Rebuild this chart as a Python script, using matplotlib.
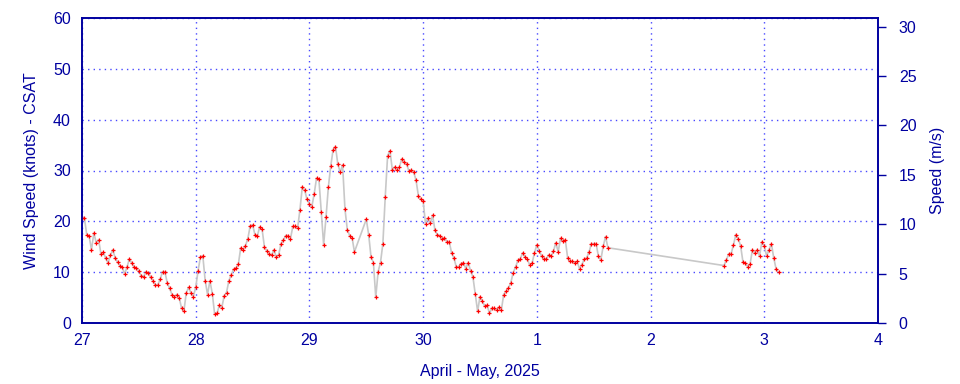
import matplotlib
matplotlib.use("Agg")
import matplotlib.pyplot as plt
import matplotlib.dates as mdates
import matplotlib.ticker as mticker
import numpy as np
import pandas as pd

# 30 minute CSAT wind speed samples (knots)
start_time = pd.Timestamp("2025-04-27 00:00")
step = pd.Timedelta(minutes=30)

seg_a_start = 0
seg_a = [20.7, 20.7, 17.4, 17.1, 14.4, 17.7, 15.8, 16.4, 13.6, 13.9,
         12.8, 11.8, 13.3, 14.4, 12.8, 12.0, 11.3, 11.0, 9.6, 11.0,
         12.6, 11.8, 11.0, 10.8, 10.2, 9.3, 9.1, 10.1, 9.8, 9.0,
         8.3, 7.5, 7.5, 8.6, 10.1, 10.0, 7.9, 6.8, 5.6, 5.2,
         5.6, 5.0, 3.0, 2.3, 5.9, 7.0, 5.9, 5.2, 7.0, 10.3,
         13.0, 13.2, 8.3, 5.6, 8.3, 5.8, 1.7, 1.9, 3.5, 3.0,
         5.3, 6.0, 8.3, 9.5, 10.6, 10.8, 11.6, 14.8, 14.4, 15.2,
         16.6, 19.1, 19.3, 17.4, 17.1, 18.9, 18.5, 15.0, 14.2, 13.6,
         13.3, 14.4, 13.0, 13.4, 15.6, 16.3, 17.2, 17.2, 16.6, 19.0,
         19.0, 18.6, 22.3, 26.8, 26.1, 24.3, 23.4, 22.8, 25.4, 28.5,
         28.3, 21.8, 15.4, 20.8, 26.8, 30.9, 34.1, 34.7, 31.2, 29.7,
         31.1, 22.4, 18.3, 17.2, 16.8, 14.0]

seg_b_start = 120
seg_b = [20.4, 17.4, 13.0, 11.9, 5.1, 10.1, 11.9, 15.6, 24.8, 32.9,
         33.9, 30.1, 30.7, 30.1, 30.7, 32.3, 31.7, 31.3, 29.9, 30.1,
         29.7, 28.1, 25.0, 24.4, 24.0,
         19.5, 20.6, 19.6, 21.2, 18.2, 17.4, 17.2, 16.5, 16.8, 16.0,
         16.0, 13.8, 12.8, 11.0, 11.1, 11.7, 11.9, 10.7, 11.9, 10.3,
         9.1, 5.7, 2.3, 5.2, 4.3, 3.3, 3.5, 1.9, 2.9, 2.9,
         2.5, 3.1, 2.5, 5.6, 6.2, 6.9, 7.9, 9.9, 11.0, 12.3,
         12.6,
         13.8, 13.0, 12.5, 11.4, 11.8, 13.8, 15.4, 14.2, 13.2, 12.6,
         12.6, 13.4, 13.1, 14.1, 15.8, 14.0, 16.7, 16.1, 16.4, 12.8,
         12.1, 12.1, 11.9, 12.1, 10.7, 11.5, 12.5, 12.8, 13.9, 15.6,
         15.6, 15.6, 13.1, 12.4, 15.1, 17.0, 14.8]

seg_c_start = 271
seg_c = [11.3, 12.4, 13.6, 13.6, 15.4, 17.4, 16.6, 15.2, 12.0, 11.8,
         11.1, 11.6, 14.4, 13.8, 14.4, 13.2, 16.0, 15.2, 13.2, 14.4,
         15.6, 12.8, 10.6, 10.0]

KNOT_TO_MS = 0.514444
NAVY = "#0000a0"
FS = 11.5

idx = []
vals = []
for s, seg in [(seg_a_start, seg_a), (seg_b_start, seg_b), (seg_c_start, seg_c)]:
    idx += list(range(s, s + len(seg)))
    vals += seg
times = start_time + step * np.array(idx)

plt.rcParams['font.family'] = ['Liberation Sans', 'DejaVu Sans']

fig = plt.figure(figsize=(9.6, 3.84), dpi=100)
ax = fig.add_axes([82 / 960, 61 / 384, 796 / 960, 305 / 384])

ax.plot(times, vals, color="#c8c8c8", lw=1.2, zorder=2)
ax.plot(times, vals, ls="none", marker="+", ms=3, mew=0.9, color="red", zorder=3)

ax.set_xlim(pd.Timestamp("2025-04-27"), pd.Timestamp("2025-05-04"))
ax.set_ylim(0, 60)
ax.set_yticks(range(0, 61, 10))
ax.xaxis.set_major_locator(mdates.DayLocator())
ax.xaxis.set_major_formatter(mticker.FuncFormatter(lambda x, p: str(mdates.num2date(x).day)))

ax.grid(True, color="#4848ff", ls=(0, (1, 3)), lw=1)
for sp in ax.spines.values():
    sp.set_color(NAVY)
    sp.set_linewidth(1.2)

ax.tick_params(axis="y", length=0, pad=8, labelsize=FS, labelcolor=NAVY)
ax.tick_params(axis="x", length=0, pad=7, labelsize=FS, labelcolor=NAVY)
ax.set_ylabel("Wind Speed (knots) - CSAT", color=NAVY, fontsize=FS, labelpad=10)
ax.set_xlabel("April - May, 2025", color=NAVY, fontsize=FS, labelpad=12)

ax2 = ax.twinx()
ax2.set_ylim(0, 60 * KNOT_TO_MS)
ax2.set_yticks(range(0, 31, 5))
ax2.tick_params(axis="y", length=6, width=1, color=NAVY, pad=9, labelsize=FS, labelcolor=NAVY)
ax2.set_ylabel("Speed (m/s)", color=NAVY, fontsize=FS, labelpad=10)
for sp in ax2.spines.values():
    sp.set_color(NAVY)
    sp.set_linewidth(1.2)

fig.savefig("out.png", dpi=100)
